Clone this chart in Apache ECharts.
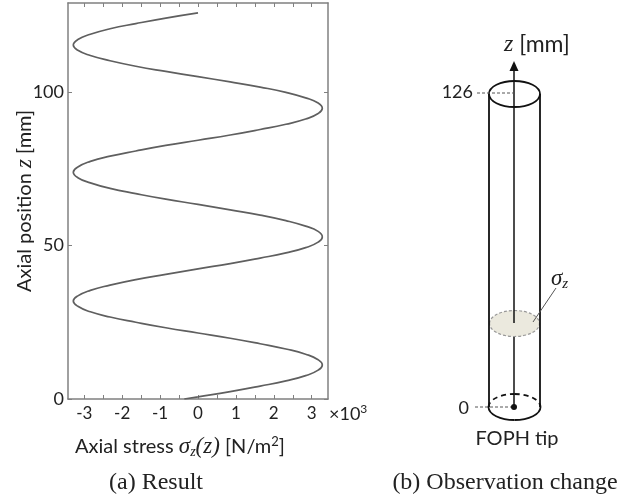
<!DOCTYPE html>
<html>
<head>
<meta charset="utf-8">
<script src="https://cdn.jsdelivr.net/npm/echarts@6/dist/echarts.min.js"></script>
<style>
  html, body { margin: 0; padding: 0; background: #fff; }
  #main { width: 631px; height: 502px; }
</style>
</head>
<body>
<div id="main"></div>
<script>
// values: axial position z [mm] and stress [x10^3 N/m^2]
var zPos = [0, 0.7, 2.4, 4.2, 5.9, 7.6, 9.4, 11.1,
    12.8, 14.6, 16.3, 18.0, 19.8, 21.5,
    23.2, 25.0, 26.7, 28.4, 30.2, 31.9,
    33.6, 35.4, 37.1, 38.9, 40.6, 42.4,
    44.1, 45.9, 47.6, 49.3, 51.1, 52.8,
    54.6, 56.3, 58.1, 59.9, 61.6, 63.4,
    65.1, 66.9, 68.6, 70.4, 72.1, 73.9,
    75.6, 77.4, 79.1, 80.8, 82.6, 84.3,
    86.0, 87.8, 89.5, 91.2, 93.0, 94.7,
    96.4, 98.1, 99.9, 101.6, 103.3, 105.0,
    106.7, 108.4, 110.2, 111.9, 113.6, 115.3,
    117.1, 118.8, 120.6, 122.3, 124.1, 125.8];
var stress = [-0.36, 0, 0.85, 1.64, 2.32, 2.84, 3.17, 3.28,
    3.17, 2.84, 2.32, 1.64, 0.85, 0,
    -0.85, -1.64, -2.32, -2.84, -3.17, -3.29,
    -3.17, -2.84, -2.32, -1.64, -0.85, 0,
    0.85, 1.64, 2.32, 2.84, 3.17, 3.28,
    3.17, 2.84, 2.32, 1.64, 0.85, 0,
    -0.85, -1.64, -2.32, -2.84, -3.17, -3.29,
    -3.17, -2.84, -2.32, -1.64, -0.85, 0,
    0.85, 1.64, 2.32, 2.84, 3.17, 3.28,
    3.17, 2.84, 2.32, 1.64, 0.85, 0,
    -0.85, -1.64, -2.32, -2.84, -3.17, -3.29,
    -3.17, -2.84, -2.32, -1.64, -0.85, 0];

var xLabels = [-3, -2, -1, 0, 1, 2, 3];
var xTicks = [-3, -2.5, -2, -1.5, -1, -0.5, 0, 0.5, 1, 1.5, 2, 2.5, 3];
var yTicks = [0, 50, 100];

var frame = '#808080';
var sans = 'Lato';
var serif = 'Liberation Serif';

var pts = [];
for (var i = 0; i < zPos.length; i++) {
    pts.push([stress[i], zPos[i]]);
}

function xAxisOf(pos, labels) {
    return {
        type: 'value', position: pos, min: -3.43, max: 3.43,
        axisLine: { show: true, onZero: false, lineStyle: { color: frame, width: 1.5 } },
        axisTick: { show: true, inside: true, length: 4, customValues: xTicks, lineStyle: { color: frame } },
        axisLabel: { show: labels, customValues: xLabels, fontFamily: sans, fontSize: 17, color: '#222', margin: 6 },
        splitLine: { show: false }
    };
}
function yAxisOf(pos, labels) {
    return {
        type: 'value', position: pos, min: 0, max: 129,
        axisLine: { show: true, onZero: false, lineStyle: { color: frame, width: 1.5 } },
        axisTick: { show: true, inside: true, length: 4, customValues: yTicks, lineStyle: { color: frame } },
        axisLabel: { show: labels, customValues: yTicks, fontFamily: sans, fontSize: 18, color: '#222', margin: 4 },
        splitLine: { show: false }
    };
}

var xa = xAxisOf('bottom', true);
xa.name = 'Axial stress {m|σ}{sub|z}{m|(z)} [N/m{sup|2}]';
xa.nameLocation = 'middle';
xa.nameGap = 36;
xa.nameTextStyle = {
    fontFamily: sans, fontSize: 20, color: '#222', padding: [0, 36, 0, 0],
    rich: {
        m: { fontFamily: serif, fontStyle: 'italic', fontSize: 23, color: '#222' },
        sub: { fontFamily: serif, fontStyle: 'italic', fontSize: 14, color: '#222', padding: [10, 0, 0, 0] },
        sup: { fontFamily: sans, fontSize: 13, color: '#222', padding: [0, 0, 10, 0] }
    }
};
var ya = yAxisOf('left', true);
ya.name = 'Axial position {m|z} [mm]';
ya.nameLocation = 'middle';
ya.nameRotate = 90;
ya.nameGap = 32;
ya.nameMoveOverlap = false;
ya.nameTextStyle = {
    fontFamily: sans, fontSize: 20, color: '#222',
    rich: { m: { fontFamily: serif, fontStyle: 'italic', fontSize: 23, color: '#222' } }
};

// half of the bottom rim, as two quarter curves
function halfRim(cx, cy, rx, ry, dir, style) {
    var k = 0.5523;
    return [
        { type: 'bezierCurve', z: 11, style: style, shape: {
            x1: cx - rx, y1: cy, x2: cx, y2: cy + dir * ry,
            cpx1: cx - rx, cpy1: cy + dir * k * ry, cpx2: cx - k * rx, cpy2: cy + dir * ry } },
        { type: 'bezierCurve', z: 11, style: style, shape: {
            x1: cx, y1: cy + dir * ry, x2: cx + rx, y2: cy,
            cpx1: cx + k * rx, cpy1: cy + dir * ry, cpx2: cx + rx, cpy2: cy + dir * k * ry } }
    ];
}

var myChart = echarts.init(document.getElementById('main'));
var black = '#111';
var sketch = [
    { type: 'ellipse', shape: { cx: 514.5, cy: 323.5, rx: 25, ry: 13 }, z: 10,
      style: { fill: '#ebe9de', stroke: '#999', lineWidth: 1.2, lineDash: [3, 2] } },
    { type: 'line', shape: { x1: 514, y1: 70, x2: 514, y2: 323 }, z: 11, style: { stroke: black, lineWidth: 1.5 } },
    { type: 'line', shape: { x1: 514, y1: 337, x2: 514, y2: 407 }, z: 11, style: { stroke: black, lineWidth: 1.5 } },
    { type: 'polygon', shape: { points: [[514, 61], [509.5, 71], [518.5, 71]] }, z: 11, style: { fill: black } },
    { type: 'line', shape: { x1: 489, y1: 94, x2: 489, y2: 407 }, z: 11, style: { stroke: black, lineWidth: 1.8 } },
    { type: 'line', shape: { x1: 540, y1: 94, x2: 540, y2: 407 }, z: 11, style: { stroke: black, lineWidth: 1.8 } },
    { type: 'ellipse', shape: { cx: 514.5, cy: 94, rx: 25.5, ry: 13 }, z: 11, style: { fill: null, stroke: black, lineWidth: 1.8 } },
    { type: 'line', shape: { x1: 477, y1: 93, x2: 514, y2: 93 }, z: 11, style: { stroke: '#555', lineWidth: 1, lineDash: [3, 2] } },
    { type: 'line', shape: { x1: 475, y1: 407, x2: 514, y2: 407 }, z: 11, style: { stroke: '#555', lineWidth: 1, lineDash: [3, 2] } },
    { type: 'circle', shape: { cx: 514, cy: 407, r: 3 }, z: 12, style: { fill: black } },
    { type: 'line', shape: { x1: 533, y1: 322, x2: 556, y2: 288 }, z: 12, style: { stroke: '#555', lineWidth: 1 } },
    { type: 'text', x: 473, y: 92, z: 12, style: { text: '126', fontFamily: sans, fontSize: 18, fill: '#222', align: 'right', verticalAlign: 'middle' } },
    { type: 'text', x: 469, y: 408, z: 12, style: { text: '0', fontFamily: sans, fontSize: 18, fill: '#222', align: 'right', verticalAlign: 'middle' } },
    { type: 'text', x: 504, y: 45, z: 12, style: {
        text: '{m|z} [mm]', fontFamily: sans, fontSize: 23, fill: '#222', verticalAlign: 'middle',
        rich: { m: { fontFamily: serif, fontStyle: 'italic', fontSize: 24, fill: '#222' } } } },
    { type: 'text', x: 551, y: 279, z: 12, style: {
        text: '{m|σ}{sub|z}', verticalAlign: 'middle',
        rich: {
            m: { fontFamily: serif, fontStyle: 'italic', fontSize: 23, fill: '#222' },
            sub: { fontFamily: serif, fontStyle: 'italic', fontSize: 15, fill: '#222', padding: [10, 0, 0, 0] }
        } } },
    { type: 'text', x: 517, y: 439, z: 12, style: { text: 'FOPH tip', fontFamily: sans, fontSize: 20, fill: '#222', align: 'center', verticalAlign: 'middle' } }
];
sketch = sketch.concat(halfRim(514.5, 407, 26, 13, 1, { fill: null, stroke: black, lineWidth: 1.8 }));
sketch = sketch.concat(halfRim(514.5, 407, 26, 13, -1, { fill: null, stroke: black, lineWidth: 1.8, lineDash: [5, 4] }));

var option = {
    animation: false,
    grid: { left: 68, top: 3, width: 260, height: 396 },
    xAxis: [xa, xAxisOf('top', false)],
    yAxis: [ya, yAxisOf('right', false)],
    series: [{
        type: 'line', data: pts, smooth: true, symbol: 'none',
        lineStyle: { color: '#5f5f5f', width: 1.7 }
    }],
    graphic: [
        { type: 'text', x: 329, y: 403, style: {
            text: '×10{sup|3}', fontFamily: sans, fontSize: 18, fill: '#222',
            rich: { sup: { fontFamily: sans, fontSize: 12, fill: '#222', padding: [0, 0, 10, 0] } } } },
        { type: 'text', x: 156, y: 483, style: { text: '(a) Result', fontFamily: serif, fontSize: 24, fill: '#222', align: 'center', verticalAlign: 'middle' } },
        { type: 'text', x: 505, y: 483, style: { text: '(b) Observation change', fontFamily: serif, fontSize: 24, fill: '#222', align: 'center', verticalAlign: 'middle' } }
    ].concat(sketch)
};
myChart.setOption(option);
</script>
</body>
</html>
